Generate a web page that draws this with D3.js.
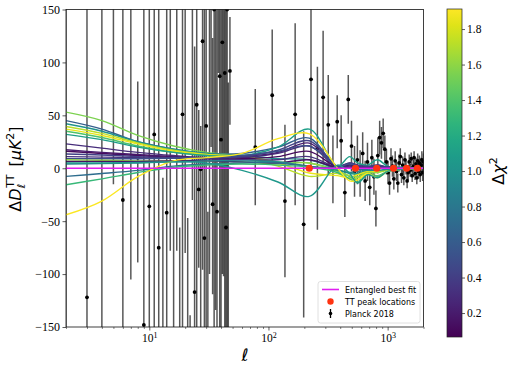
<!DOCTYPE html>
<html>
<head>
<meta charset="utf-8">
<script src="https://cdn.jsdelivr.net/npm/d3@7"></script>
<style>
	body { margin: 0; background: #fff; }
</style>
</head>
<body>
<script>
(function(d3) {
	var width = 515;
	var height = 371;

	// Planck 2018, unbinned low-ell: value and lower / upper end of the bar
	var lowEll   = [2, 3, 4, 5, 6, 7, 8, 9, 10, 11, 12, 13, 14, 15, 16, 17, 18, 19, 20, 21, 22, 23, 24, 25, 26, 27, 28, 29, 30, 31, 32, 33, 34, 35, 36, 37, 38, 39, 40, 41, 42, 43, 44, 45, 46];
	var lowVal   = [-220, -122, 200, 200, -30, 230, 10, -148, -36, 32, -75, -170, -42, 170, -170, 170, -250, 51, 180, -200, -300, 160, -117, 60, -20, -1, 120, -66, 40, -200, 200, 250, -34, 150, 200, -41, 180, 87, 27, 119, 160, 90, -56, 150, -250];
	var lowLower = [-600, -420, -250, -15, -400, -105, -89, -420, -260, -230, -300, -420, -300, -78, -400, -78, -500, -200, -80, -400, -500, -30, -400, -300, -94, -300, -96, -400, -400, -500, -100, 20, -119, -300, -134, -300, 90, -250, -250, -100, -102, -300, -300, -200, -500];
	var lowUpper = [420, 380, 700, 700, 330, 800, 82, 300, 260, 300, 230, -9, 300, 500, -30, 420, -56, 300, 400, -47, -139, 400, 115, 400, 55, 40, 400, 300, 400, -41, 500, 600, 123, 400, 500, 300, 500, 400, 300, 400, 400, 300, 300, 500, 81];

	// Planck 2018, binned high-ell
	var binEll = [47.5, 77.5, 107.5, 137.5, 167.5, 197.5, 227.5, 257.5, 287.5, 317.5, 347.5, 377.5, 407.5, 437.5, 467.5, 497.5, 527.5, 557.5, 587.5, 617.5, 647.5, 677.5, 707.5, 737.5, 767.5, 797.5, 827.5, 857.5, 887.5, 917.5, 947.5, 977.5, 1007.5, 1037.5, 1067.5, 1097.5, 1127.5, 1157.5, 1187.5, 1217.5, 1247.5, 1277.5, 1307.5, 1337.5, 1367.5, 1397.5, 1427.5, 1457.5, 1487.5, 1517.5, 1547.5, 1577.5, 1607.5, 1637.5, 1667.5, 1697.5, 1727.5, 1757.5, 1787.5, 1817.5, 1847.5, 1877.5, 1907.5, 1937.5, 1967.5, 1997.5];
	var binVal = [92, 20, 69, -31, 51, -53, 84, 19, 67, 41, -1, 44, 26, -23, 65, 21, -3, 8, -5, 14, -12, 6, -18, 10, -8, -38, 12, 29, 24, 33, 18, 6, -4, -14, 9, 2, -10, 7, -3, -14, 5, 11, -6, 3, -9, 8, 1, -12, -4, 6, -2, 9, -7, 2, 10, -5, 4, -9, 7, -3, 5, -6, 3, 8, -4, 6];
	var binErr = [51, 55, 62, 72, 86, 88, 85, 77, 63, 47, 32, 25, 24, 23, 23, 24, 24, 23, 22, 20, 19, 18, 17, 17, 17, 17, 17, 16, 15, 14, 13, 12, 11, 11, 10, 10, 10, 9, 9, 9, 8, 8, 8, 8, 7, 7, 7, 7, 7, 7, 6, 6, 6, 6, 6, 6, 6, 6, 7, 7, 7, 7, 7, 8, 8, 8];

	// model curves, sampled at these multipoles, coloured by delta chi^2
	var nodeEll = [2, 4, 8, 16, 30, 60, 120, 220, 380, 480, 560, 680, 820, 1000, 1300, 2000];
	var curveChi2 = [1.55, 0.62, 1.00, 1.72, 1.85, 1.40, 1.10, 0.30, 0.22, 0.12, 0.42, 0.33, 0.50, 1.62, 0.15, 0.92, 0.72, 1.30, 1.90, 1.05];
	var curveVals = [
		[53, 45, 31, 21, 15, 12, 6, 1.7, -2, -4, -6, -3, -3, -1, 0, 0],
		[45, 37, 25, 18, 14, 14, 20, 28.5, 1, 3, 2, 2, 2, 1, 0, 0],
		[42, 35, 25, 18, 14, 12, 9, 8, -1, -5, -5, -2, -3, -1, 0, 0],
		[39.5, 33, 24, 17, 13, 10, 2, -7.7, -5, -10, -9, -4, -4, -2, 0, 0],
		[37, 31, 23, 16, 13, 11, 5, -4.5, -7, -9, -6, -3, -3, -1, 0, 0],
		[35, 29, 21, 15, 12, 9, 6, 5, -2, -8, -11, -5, -7, -3, -1, 0],
		[32, 27, 20, 15, 12, 12, 20, 37, 2, 11, 5, 3, 8, 2, 1, 0],
		[23, 19, 15, 12, 10, 10, 14, 21, 1, 4, 2, 1, 2, 1, 0, 0],
		[17.5, 15, 13, 11, 10, 11, 15, 23.8, 2, 5, 3, 1, 3, 1, 0, 0],
		[16, 14, 12, 10, 9, 9, 11, 16, 1, 3, 2, 1, 2, 0.5, 0, 0],
		[13.5, 12.5, 11, 10, 10, 11, 17, 26, 2, 5, 3, 2, 3, 1, 0, 0],
		[11, 10.5, 10, 9.5, 9, 8, 8, 11, 0.5, 2, 1, 0.5, 1, 0.5, 0, 0],
		[9, 9, 9, 9.5, 10, 12, 16, 21, 2, 4, 2, 1, 2, 1, 0, 0],
		[8, 7.5, 7, 7, 7, 6, 4, 5, -3, -7, -8, -4, -4, -1, 0, 0],
		[6.4, 6.5, 6.5, 7, 7, 6, 5, 8, 0.5, 1, 1, 0.5, 1, 0.5, 0, 0],
		[4, 4.5, 5, 6, 7, 7, 6, 2, -2, -4, -3, -2, -2, -1, 0, 0],
		[-7.7, -5, -2, 2, 4, 5, 5, 1.7, 0, 0, -1, -1, 0, 0, 0, 0],
		[-15.6, -10, -4, 1, 3, 4, 3, 1, -4, -10, -13, -6, -8, -3, -1, 0],
		[-44, -31, -8, 7, 10, 14, 28, 32.5, 0, -12, -11, -5, -9, -3, -1, 0],
		[5, 5, 5.5, 6, 5, -2, -13, -26.6, 3, -5, -14, -6, -9, -3, -1, 0]
	];

	var bestEll = [2, 2000];
	var bestVal = [0, 0];

	var peakEll = [220, 537.5, 810.8, 1120.9, 1444.2, 1776];
	var peakVal = [0, 0, 0, 0, 0, 0];

	var yTicks = [-150, -100, -50, 0, 50, 100, 150];
	var xMajor = [10, 100, 1000];
	var xMinor = [2, 3, 4, 5, 6, 7, 8, 9, 20, 30, 40, 50, 60, 70, 80, 90, 200, 300, 400, 500, 600, 700, 800, 900, 2000];
	var cTicks = [0.2, 0.4, 0.6, 0.8, 1.0, 1.2, 1.4, 1.6, 1.8];

	var serif = "'Liberation Serif', 'DejaVu Serif', serif";
	var sans = "'DejaVu Sans', sans-serif";

	var svg = d3.select("body").append("svg")
		.attr("width", width)
		.attr("height", height);

	var x = d3.scaleLog().domain([2, 2000]).range([66, 423.5]);
	var y = d3.scaleLinear().domain([-150, 150]).range([327, 9.5]);
	var cscale = d3.scaleLinear().domain([0.065, 1.913]).range([337, 9]);
	var color = d3.scaleSequential(d3.interpolateViridis).domain([0.065, 1.913]);

	var defs = svg.append("defs");
	defs.append("clipPath").attr("id", "clip")
		.append("rect")
		.attr("x", 66).attr("y", 9.5)
		.attr("width", 423.5 - 66).attr("height", 327 - 9.5);

	var plot = svg.append("g").attr("clip-path", "url(#clip)");

	// error bars
	var lows = lowEll.map(function(l, i) {
		return {l: l, v: lowVal[i], lo: lowLower[i], hi: lowUpper[i]};
	});
	var bins = binEll.map(function(l, i) {
		return {l: l, v: binVal[i], lo: binVal[i] - binErr[i], hi: binVal[i] + binErr[i]};
	});
	var planck = lows.concat(bins);

	plot.selectAll(".ebar").data(planck).enter().append("line")
		.attr("class", "ebar")
		.attr("x1", function(d) { return x(d.l); })
		.attr("x2", function(d) { return x(d.l); })
		.attr("y1", function(d) { return y(Math.max(d.lo, -400)); })
		.attr("y2", function(d) { return y(Math.min(d.hi, 400)); })
		.attr("stroke", "#000")
		.attr("stroke-opacity", 0.66)
		.attr("stroke-width", 1.5);

	plot.selectAll(".pt").data(planck.filter(function(d) { return d.v > -160 && d.v < 160; })).enter().append("circle")
		.attr("class", "pt")
		.attr("cx", function(d) { return x(d.l); })
		.attr("cy", function(d) { return y(d.v); })
		.attr("r", 1.9)
		.attr("fill", "#000");

	// model curves
	var line = d3.line()
		.x(function(d) { return x(d[0]); })
		.y(function(d) { return y(d[1]); })
		.curve(d3.curveCatmullRom.alpha(0.5));

	curveVals.forEach(function(vals, i) {
		plot.append("path")
			.datum(nodeEll.map(function(l, j) { return [l, vals[j]]; }))
			.attr("d", line)
			.attr("fill", "none")
			.attr("stroke", color(curveChi2[i]))
			.attr("stroke-width", 1.4);
	});

	plot.append("path")
		.datum(bestEll.map(function(l, j) { return [l, bestVal[j]]; }))
		.attr("d", d3.line().x(function(d) { return x(d[0]); }).y(function(d) { return y(d[1]); }))
		.attr("fill", "none")
		.attr("stroke", "#e01ff0")
		.attr("stroke-width", 1.6);

	plot.selectAll(".peak").data(peakEll).enter().append("circle")
		.attr("cx", function(d) { return x(d); })
		.attr("cy", function(d, i) { return y(peakVal[i]); })
		.attr("r", 3.6)
		.attr("fill", "#ff3311");

	// axes
	var yAxis = svg.append("g")
		.attr("transform", "translate(66,0)")
		.call(d3.axisLeft(y).tickValues(yTicks).tickSize(3.5).tickPadding(2.5)
			.tickFormat(function(d) { return d < 0 ? "\u2212" + (-d) : d; }));
	yAxis.select(".domain").remove();
	yAxis.selectAll("text").style("font-family", serif).style("font-size", "12px").attr("fill", "#000");
	yAxis.selectAll("line").attr("stroke", "#333").attr("stroke-width", 0.8);

	var xAxis = svg.append("g")
		.attr("transform", "translate(0,327)")
		.call(d3.axisBottom(x).tickValues(xMajor).tickSize(3.5).tickPadding(3).tickFormat(function() { return ""; }));
	xAxis.select(".domain").remove();
	xAxis.selectAll("line").attr("stroke", "#333").attr("stroke-width", 0.8);
	xAxis.selectAll("text").each(function(d) {
		var t = d3.select(this)
			.style("font-family", serif).style("font-size", "11.5px").attr("fill", "#000");
		t.append("tspan").text("10");
		t.append("tspan").attr("dy", "-0.45em").style("font-size", "8px").text(Math.round(Math.log10(d)));
	});

	var xMinorAxis = svg.append("g")
		.attr("transform", "translate(0,327)")
		.call(d3.axisBottom(x).tickValues(xMinor).tickSize(2).tickFormat(function() { return ""; }));
	xMinorAxis.select(".domain").remove();
	xMinorAxis.selectAll("line").attr("stroke", "#333").attr("stroke-width", 0.6);

	// frame
	svg.append("rect")
		.attr("x", 66).attr("y", 9.5)
		.attr("width", 423.5 - 66).attr("height", 327 - 9.5)
		.attr("fill", "none")
		.attr("stroke", "#111")
		.attr("stroke-width", 0.8);

	// axis labels
	var ylab = svg.append("text")
		.attr("transform", "translate(21,169) rotate(-90)")
		.attr("text-anchor", "middle")
		.style("font-family", sans)
		.style("font-size", "16px")
		.attr("fill", "#000");
	ylab.append("tspan").text("\u0394");
	ylab.append("tspan").style("font-style", "italic").text("D");
	ylab.append("tspan").style("font-style", "italic").style("font-size", "11px").attr("dy", 4).text("\u2113");
	ylab.append("tspan").style("font-size", "11px").attr("dx", -4).attr("dy", -11).text("TT");
	ylab.append("tspan").attr("dy", 7).text("\u2002[");
	ylab.append("tspan").style("font-style", "italic").text("\u03bcK");
	ylab.append("tspan").style("font-size", "11px").attr("dy", -7).text("2");
	ylab.append("tspan").attr("dy", 7).text("]");

	svg.append("text")
		.attr("x", 245).attr("y", 361)
		.attr("text-anchor", "middle")
		.style("font-family", sans)
		.style("font-style", "italic")
		.style("font-size", "17px")
		.text("\u2113");

	// legend
	var leg = svg.append("g");
	leg.append("rect")
		.attr("x", 318).attr("y", 281.5)
		.attr("width", 102).attr("height", 41.5)
		.attr("rx", 2.5)
		.attr("fill", "#fff").attr("fill-opacity", 0.8)
		.attr("stroke", "#d8d8d8").attr("stroke-width", 0.8);
	leg.append("line")
		.attr("x1", 322).attr("x2", 339).attr("y1", 289.5).attr("y2", 289.5)
		.attr("stroke", "#e01ff0").attr("stroke-width", 1.6);
	leg.append("circle").attr("cx", 330.5).attr("cy", 301.5).attr("r", 3.2).attr("fill", "#ff3311");
	leg.append("line")
		.attr("x1", 330.5).attr("x2", 330.5).attr("y1", 309).attr("y2", 318)
		.attr("stroke", "#000").attr("stroke-width", 1.3);
	leg.append("circle").attr("cx", 330.5).attr("cy", 313.5).attr("r", 1.8).attr("fill", "#000");
	var legText = ["Entangled best fit", "TT peak locations", "Planck 2018"];
	leg.selectAll(".lt").data(legText).enter().append("text")
		.attr("x", 345)
		.attr("y", function(d, i) { return 292.5 + i * 12; })
		.style("font-family", sans)
		.style("font-size", "8px")
		.text(function(d) { return d; });

	// colorbar
	var grad = defs.append("linearGradient").attr("id", "cbar")
		.attr("x1", 0).attr("y1", 1).attr("x2", 0).attr("y2", 0);
	d3.range(0, 1.0001, 0.05).forEach(function(t) {
		grad.append("stop").attr("offset", t).attr("stop-color", d3.interpolateViridis(t));
	});
	svg.append("rect")
		.attr("x", 447).attr("y", 9)
		.attr("width", 15).attr("height", 328)
		.attr("fill", "url(#cbar)")
		.attr("stroke", "#222").attr("stroke-width", 0.7);

	var cAxis = svg.append("g")
		.attr("transform", "translate(462,0)")
		.call(d3.axisRight(cscale).tickValues(cTicks).tickSize(3).tickPadding(2)
			.tickFormat(d3.format(".1f")));
	cAxis.select(".domain").remove();
	cAxis.selectAll("line").attr("stroke", "#333").attr("stroke-width", 0.8);
	cAxis.selectAll("text").style("font-family", serif).style("font-size", "11.5px").attr("fill", "#000");

	var clab = svg.append("text")
		.attr("transform", "translate(504,171) rotate(-90)")
		.attr("text-anchor", "middle")
		.style("font-family", sans)
		.style("font-size", "16px")
		.attr("fill", "#000");
	clab.append("tspan").text("\u0394");
	clab.append("tspan").style("font-style", "italic").text("\u03c7");
	clab.append("tspan").style("font-size", "11px").attr("dy", -7).text("2");

})(d3);
</script>
</body>
</html>
